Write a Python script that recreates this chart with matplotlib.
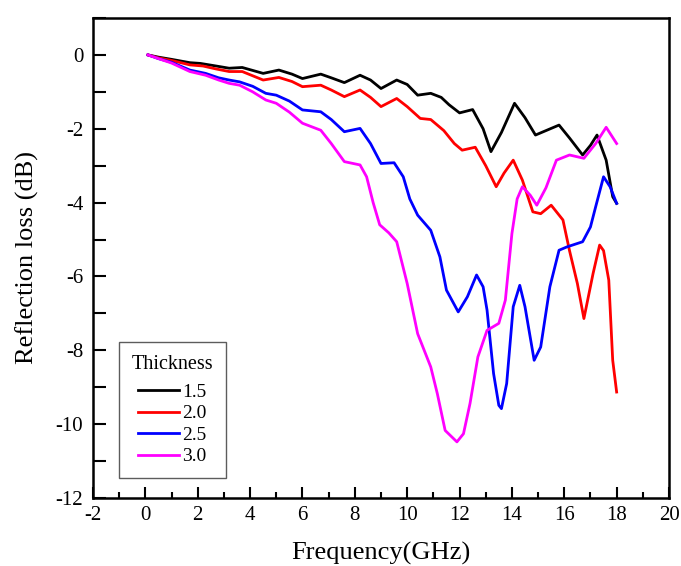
import numpy as np
import matplotlib
matplotlib.use("Agg")
import matplotlib.pyplot as plt
from matplotlib.ticker import MultipleLocator

plt.rcParams['font.family'] = ['Liberation Serif', 'DejaVu Serif']
plt.rcParams['axes.unicode_minus'] = False

# frequency (GHz) / reflection loss (dB)
f_15 = [0.1, 0.5, 1.0, 1.7, 2.1, 2.7, 3.2, 3.7, 4.5, 5.1, 5.6, 6.0, 6.7, 7.1, 7.6, 8.2, 8.6, 9.0,
        9.6, 10.0, 10.4, 10.9, 11.3, 11.6, 12.0, 12.5, 12.9, 13.2, 13.6, 14.1, 14.5, 14.9, 15.3,
        15.8, 16.2, 16.7, 17.0, 17.25, 17.6, 17.85, 18.0]
rl_15 = [0.0, -0.06, -0.12, -0.21, -0.23, -0.3, -0.36, -0.34, -0.5, -0.41, -0.52, -0.64, -0.52,
         -0.62, -0.75, -0.55, -0.68, -0.91, -0.68, -0.8, -1.09, -1.04, -1.15, -1.35, -1.57, -1.48,
         -2.0, -2.62, -2.1, -1.31, -1.7, -2.17, -2.05, -1.9, -2.25, -2.71, -2.45, -2.17, -2.85,
         -3.84, -4.02]

f_20 = [0.1, 0.5, 1.0, 1.7, 2.2, 2.7, 3.2, 3.7, 4.5, 5.1, 5.6, 6.0, 6.7, 7.1, 7.6, 8.2, 8.6, 9.0,
        9.6, 10.0, 10.5, 10.9, 11.4, 11.8, 12.1, 12.6, 13.0, 13.4, 13.7, 14.05, 14.4, 14.8, 15.1,
        15.5, 15.95, 16.2, 16.5, 16.75, 17.1, 17.35, 17.5, 17.7, 17.85, 18.0]
rl_20 = [0.0, -0.08, -0.15, -0.27, -0.3, -0.38, -0.45, -0.45, -0.68, -0.61, -0.72, -0.86, -0.82,
         -0.95, -1.13, -0.95, -1.15, -1.4, -1.18, -1.4, -1.72, -1.75, -2.05, -2.4, -2.58, -2.5,
         -3.0, -3.57, -3.2, -2.85, -3.39, -4.25, -4.3, -4.07, -4.47, -5.3, -6.19, -7.14, -5.92,
         -5.15, -5.3, -6.1, -8.27, -9.13]

f_25 = [0.1, 0.5, 1.0, 1.7, 2.3, 2.8, 3.2, 3.6, 4.1, 4.6, 5.0, 5.5, 6.0, 6.7, 7.1, 7.6, 8.2, 8.6,
        9.0, 9.5, 9.85, 10.1, 10.4, 10.9, 11.25, 11.5, 11.95, 12.3, 12.65, 12.9, 13.05, 13.3,
        13.5, 13.6, 13.8, 14.05, 14.3, 14.5, 14.85, 15.1, 15.45, 15.8, 16.1, 16.7, 17.0, 17.2,
        17.5, 17.75, 18.0]
rl_25 = [0.0, -0.1, -0.2, -0.41, -0.5, -0.62, -0.68, -0.73, -0.85, -1.04, -1.09, -1.25, -1.49,
         -1.54, -1.75, -2.08, -1.99, -2.4, -2.94, -2.92, -3.3, -3.9, -4.34, -4.75, -5.47, -6.37,
         -6.96, -6.55, -5.96, -6.28, -6.91, -8.63, -9.49, -9.58, -8.9, -6.82, -6.24, -6.82,
         -8.27, -7.91, -6.28, -5.29, -5.2, -5.06, -4.66, -4.11, -3.3, -3.57, -4.02]

f_30 = [0.1, 0.5, 1.0, 1.7, 2.3, 2.8, 3.2, 3.6, 4.1, 4.6, 5.0, 5.5, 6.0, 6.7, 7.1, 7.6, 8.2, 8.45,
        8.7, 8.95, 9.3, 9.6, 10.0, 10.4, 10.9, 11.15, 11.45, 11.9, 12.15, 12.4, 12.7, 13.05,
        13.5, 13.75, 14.0, 14.2, 14.4, 14.7, 14.95, 15.3, 15.7, 16.2, 16.75, 17.2, 17.6, 18.0]
rl_30 = [0.0, -0.1, -0.22, -0.45, -0.55, -0.68, -0.77, -0.82, -1.0, -1.22, -1.31, -1.55, -1.85,
         -2.04, -2.4, -2.89, -2.98, -3.3, -4.0, -4.6, -4.82, -5.06, -6.19, -7.55, -8.45, -9.17,
         -10.17, -10.48, -10.26, -9.44, -8.18, -7.46, -7.27, -6.64, -4.84, -3.9, -3.57, -3.8,
         -4.07, -3.6, -2.85, -2.71, -2.8, -2.4, -1.96, -2.4]

thickness = ['1.5', '2.0', '2.5', '3.0']
colors = ['black', 'red', 'blue', 'magenta']

fig = plt.figure(figsize=(6.81, 5.66), dpi=100)
ax = fig.add_axes([93/681, 1 - 498/566, 576/681, 480/566])

for f, rl, lab, c in zip([f_15, f_20, f_25, f_30], [rl_15, rl_20, rl_25, rl_30], thickness, colors):
    ax.plot(f, rl, color=c, lw=2, label=lab)

ax.set_xlim(-2, 20)
ax.set_ylim(-12, 1)
ax.xaxis.set_major_locator(MultipleLocator(2))
ax.xaxis.set_minor_locator(MultipleLocator(1))
ax.yaxis.set_major_locator(MultipleLocator(2))
ax.yaxis.set_minor_locator(MultipleLocator(1))
ax.tick_params(which='both', direction='in', width=1.5, labelsize=15)
ax.tick_params(axis='x', which='major', length=8, pad=6)
ax.tick_params(axis='x', which='minor', length=4)
ax.tick_params(axis='y', which='both', length=9, pad=7)
ax.tick_params(top=False, right=False)
for s in ax.spines.values():
    s.set_linewidth(1.8)

ax.set_xlabel('Frequency(GHz)', fontsize=19, labelpad=12)
ax.set_ylabel('Reflection loss (dB)', fontsize=19, labelpad=12)

leg = ax.legend(title='Thickness', loc='lower left',
                bbox_to_anchor=((119 - 93) / 576, (498 - 478) / 480), borderaxespad=0,
                fontsize=14, title_fontsize=14.5, frameon=True, fancybox=False,
                edgecolor='#333333', handlelength=2.1, handletextpad=0.15, borderpad=0.65,
                labelspacing=0.2)
leg.get_frame().set_linewidth(1.0)
leg._legend_box.sep = 7

fig.savefig('out.png', dpi=100)
